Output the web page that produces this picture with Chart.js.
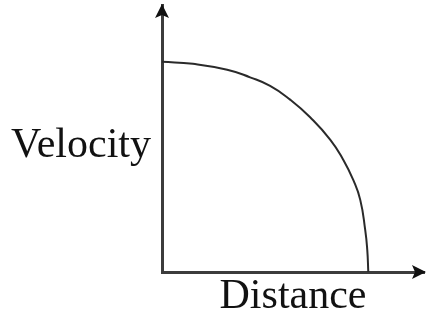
<!DOCTYPE html>
<html>
<head>
<meta charset="UTF-8">
<title>Velocity vs Distance</title>
<style>
	html, body { margin: 0; padding: 0; background: #fff; }
	.container { width: 427px; height: 322px; }
</style>
<script src="https://cdn.jsdelivr.net/npm/chart.js@4/dist/chart.umd.min.js"></script>
</head>
<body>
<div class="container">
	<canvas id="myChart" width="427" height="322"></canvas>
</div>
<script>
	// curve: velocity falls off as distance grows
	var distance = [0, 1.5, 3.16, 4.27, 5.24, 6.21, 7.18, 8.16, 8.79, 9.27, 9.61, 9.85, 9.95, 10];
	var velocity = [10, 9.9, 9.62, 9.26, 8.85, 8.2, 7.36, 6.29, 5.33, 4.38, 3.43, 2.0, 1.05, 0];
	var xLabel = 'Distance';
	var yLabel = 'Velocity';

	var axisColor = '#3c3c3c';
	var serif = '"Liberation Serif", "DejaVu Serif", serif';

	var points = [];
	for (var i = 0; i < distance.length; i++) {
		points.push({ x: distance[i], y: velocity[i] });
	}

	// arrow heads on the axes + the horizontal y label
	var axesDeco = {
		id: 'axesDeco',
		afterDraw: function(chart) {
			var ctx = chart.ctx;
			var a = chart.chartArea;
			ctx.save();
			ctx.fillStyle = '#111';
			// x arrow
			ctx.beginPath();
			ctx.moveTo(a.right + 2, a.bottom);
			ctx.lineTo(a.right - 12, a.bottom - 7);
			ctx.lineTo(a.right - 9, a.bottom);
			ctx.lineTo(a.right - 12, a.bottom + 7);
			ctx.closePath();
			ctx.fill();
			// y arrow
			ctx.beginPath();
			ctx.moveTo(a.left, a.top - 1);
			ctx.lineTo(a.left - 7, a.top + 13);
			ctx.lineTo(a.left, a.top + 10);
			ctx.lineTo(a.left + 7, a.top + 13);
			ctx.closePath();
			ctx.fill();

			ctx.fillStyle = '#111';
			ctx.font = '42px ' + serif;
			ctx.textAlign = 'center';
			ctx.textBaseline = 'alphabetic';
			ctx.fillText(yLabel, 81, 157);
			ctx.restore();
		}
	};

	var ctx = document.getElementById('myChart').getContext('2d');
	var myChart = new Chart(ctx, {
		type: 'scatter',
		data: {
			datasets: [{
				data: points,
				showLine: true,
				borderColor: '#2a2a2a',
				borderWidth: 2,
				pointRadius: 0,
				tension: 0.5,
				fill: false
			}]
		},
		options: {
			responsive: false,
			animation: false,
			layout: { padding: { left: 162, top: 5, right: 3, bottom: 0 } },
			plugins: {
				legend: { display: false },
				tooltip: { enabled: false }
			},
			scales: {
				x: {
					type: 'linear',
					min: 0,
					max: 12.7,
					grid: { display: false },
					border: { display: true, color: axisColor, width: 3 },
					ticks: { display: false },
					title: {
						display: true,
						text: xLabel,
						color: '#111',
						font: { family: serif, size: 42 },
						padding: { top: 0, bottom: 0 }
					},
					afterFit: function(scale) { scale.height = 50; }
				},
				y: {
					type: 'linear',
					min: 0,
					max: 12.7,
					grid: { display: false },
					border: { display: true, color: axisColor, width: 3 },
					ticks: { display: false },
					afterFit: function(scale) { scale.width = 0; }
				}
			}
		},
		plugins: [axesDeco]
	});
</script>
</body>
</html>
